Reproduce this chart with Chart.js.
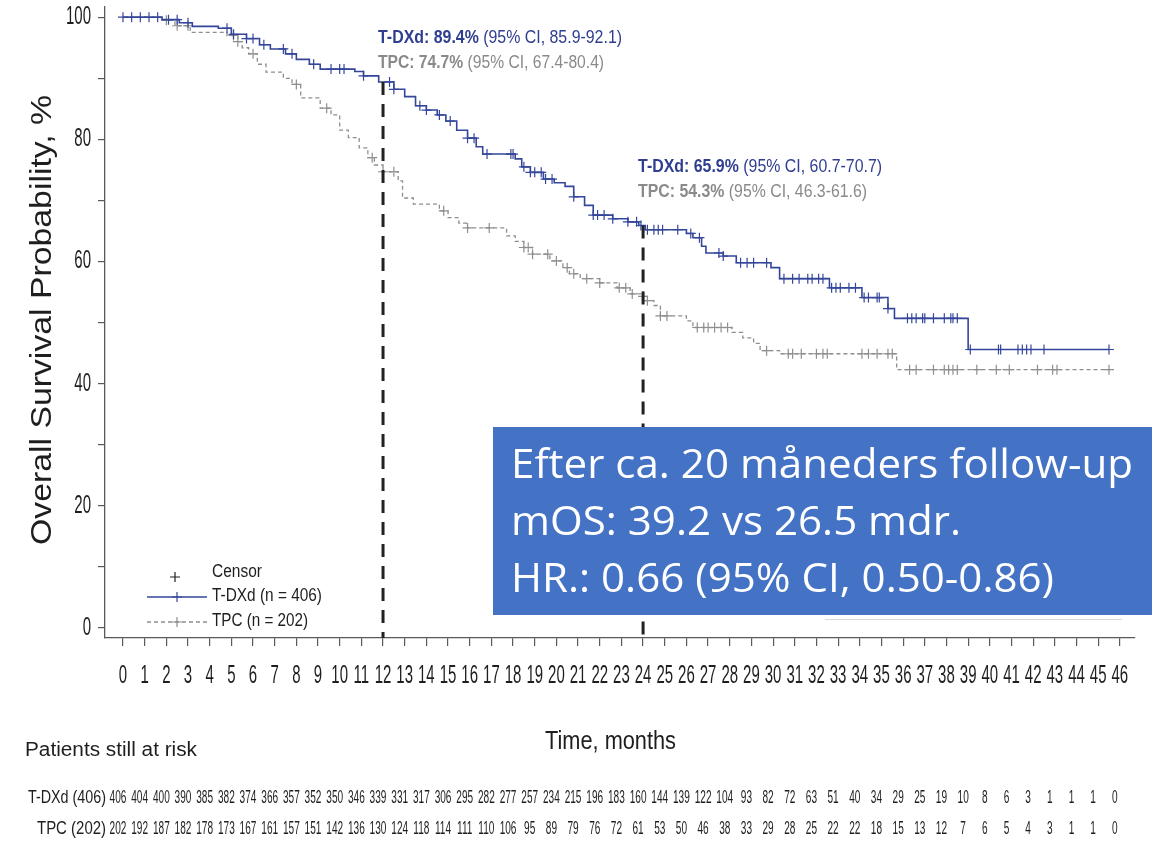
<!DOCTYPE html>
<html lang="en">
<head>
<meta charset="UTF-8" />
<title>Overall survival: T-DXd vs TPC</title>
<script src="https://cdn.jsdelivr.net/npm/chart.js@4.4.1/dist/chart.umd.min.js"></script>
<style>
  html, body { margin: 0; padding: 0; background: #fff; }
  .container { width: 1152px; height: 846px; }
</style>
</head>
<body>
<div class="container">
  <canvas id="kmChart" width="1152" height="846"></canvas>
</div>
<script>
// Kaplan-Meier steps (time in months, survival in %)
const tdxdTime = [0, 1.8, 2.6, 3.2, 4.4, 5.0, 5.7, 6.3, 6.8, 7.5, 8.0, 8.6, 9.1, 10.7, 11.1, 11.8, 12.5, 13.0, 13.5, 14.0,
  14.5, 14.9, 15.4, 15.9, 16.3, 16.6, 18.1, 18.4, 18.8, 19.4, 19.9, 20.4, 20.8, 21.3, 21.7, 22.6, 23.3, 23.8, 24.1, 26.0,
  26.3, 26.7, 26.9, 27.7, 28.3, 29.9, 30.3, 32.6, 34.1, 35.3, 35.6, 39.0, 45.5];
const tdxdSurv = [100, 99.6, 99.1, 98.5, 98.2, 97.2, 96.5, 95.5, 94.8, 94.0, 93.1, 92.3, 91.5, 91.1, 90.4, 89.4, 88.2, 87.0, 85.5, 84.8,
  84.0, 83.0, 81.5, 80.2, 78.8, 77.6, 76.8, 75.5, 74.6, 73.5, 72.9, 72.3, 70.6, 69.2, 67.6, 67.0, 66.5, 65.9, 65.2, 64.6,
  63.9, 62.5, 61.4, 60.9, 59.8, 59.0, 57.2, 55.7, 54.1, 52.3, 50.7, 45.6, 45.6];

const tpcTime = [0, 1.8, 2.4, 3.1, 4.8, 5.3, 5.5, 5.8, 6.2, 6.6, 7.4, 7.8, 8.2, 9.1, 9.6, 10.0, 10.4, 10.9, 11.3, 11.6,
  12.0, 12.7, 12.9, 13.4, 14.6, 15.0, 15.5, 15.9, 17.7, 18.1, 18.5, 18.9, 19.7, 20.3, 20.6, 21.1, 22.0, 22.8, 23.4, 23.9,
  24.1, 24.5, 24.8, 26.0, 26.3, 28.1, 28.6, 29.1, 29.4, 30.3, 35.7, 45.5];
const tpcSurv = [100, 99.5, 98.6, 97.5, 97.0, 96.0, 95.0, 94.0, 92.3, 91.0, 90.0, 89.0, 86.8, 85.1, 84.0, 81.5, 80.3, 78.6, 77.0, 75.8,
  74.7, 73.2, 70.4, 69.4, 68.3, 67.2, 66.3, 65.5, 64.2, 63.3, 62.3, 61.2, 60.1, 59.0, 58.0, 57.2, 56.5, 55.7, 54.7, 54.3,
  53.6, 52.8, 51.1, 50.3, 49.2, 48.4, 47.5, 46.6, 45.4, 44.9, 42.3, 42.3];

// censoring times (months)
const tdxdCensor = [0, 0.4, 0.8, 1.2, 1.6, 2.1, 2.5, 3.0, 4.8, 5.1, 5.7, 6.0, 6.5, 7.4, 7.8, 8.8, 9.6, 10.0, 10.2, 11.1,
  12.3, 12.5, 13.7, 14.0, 14.6, 15.1, 15.9, 16.2, 16.8, 17.9, 18.0, 18.5, 18.8, 19.0, 19.3, 19.5, 19.8, 20.8, 21.7, 21.9,
  22.2, 22.6, 23.3, 23.7, 23.9, 24.2, 24.5, 24.7, 24.9, 25.6, 26.2, 26.6, 27.5, 27.7, 28.5, 28.8, 29.1, 29.7, 30.5, 30.9,
  31.2, 31.6, 31.8, 32.1, 32.3, 32.7, 32.9, 33.1, 33.5, 33.8, 34.2, 34.4, 34.8, 34.9, 35.3, 36.2, 36.4, 36.6, 36.9, 37.0,
  37.4, 37.9, 38.2, 38.3, 38.5, 39.1, 40.4, 40.5, 41.3, 41.5, 41.7, 41.9, 42.5, 45.5];
const tpcCensor = [2.0, 2.5, 3.0, 5.1, 5.3, 6.0, 8.0, 9.4, 11.5, 12.0, 12.5, 14.8, 15.9, 16.9, 18.5, 18.7, 18.9, 19.6, 20.0, 20.5,
  20.8, 21.4, 22.0, 22.9, 23.2, 23.5, 24.0, 24.2, 24.8, 25.1, 26.5, 26.8, 27.0, 27.3, 27.6, 27.9, 29.7, 30.7, 30.9, 31.3,
  32.0, 32.3, 32.5, 34.1, 34.4, 34.8, 35.3, 35.5, 36.3, 36.6, 37.4, 37.9, 38.1, 38.3, 38.5, 39.4, 40.3, 40.9, 42.2, 42.9,
  43.1, 45.5];

const months = [0, 1, 2, 3, 4, 5, 6, 7, 8, 9, 10, 11, 12, 13, 14, 15, 16, 17, 18, 19, 20, 21, 22, 23,
  24, 25, 26, 27, 28, 29, 30, 31, 32, 33, 34, 35, 36, 37, 38, 39, 40, 41, 42, 43, 44, 45, 46];
const yTicks = [0, 10, 20, 30, 40, 50, 60, 70, 80, 90, 100];
const yLabels = [0, 20, 40, 60, 80, 100];

const tdxdAtRisk = [406, 404, 400, 390, 385, 382, 374, 366, 357, 352, 350, 346, 339, 331, 317, 306, 295, 282, 277, 257, 234, 215,
  196, 183, 160, 144, 139, 122, 104, 93, 82, 72, 63, 51, 40, 34, 29, 25, 19, 10, 8, 6, 3, 1, 1, 1, 0];
const tpcAtRisk = [202, 192, 187, 182, 178, 173, 167, 161, 157, 151, 142, 136, 130, 124, 118, 114, 111, 110, 106, 95, 89, 79,
  76, 72, 61, 53, 50, 46, 38, 33, 29, 28, 25, 22, 22, 18, 15, 13, 12, 7, 6, 5, 4, 3, 1, 1, 0];

// landmark estimates
const landmarks = [
  { month: 12, tdxd: 89.4, tpc: 74.7, tdxdCI: '85.9-92.1', tpcCI: '67.4-80.4' },
  { month: 24, tdxd: 65.9, tpc: 54.3, tdxdCI: '60.7-70.7', tpcCI: '46.3-61.6' }
];

const boxLines = ['Efter ca. 20 måneders follow-up', 'mOS: 39.2 vs 26.5 mdr.', 'HR.: 0.66 (95% CI, 0.50-0.86)'];

const BLUE = '#34469a';
const BLUE_TXT = '#2f3e8f';
const GREY = '#8e8e8e';
const GREY_TXT = '#8a8a8a';
const AXIS = '#5a5a5a';
const INK = '#1e1e1e';
const FONT = '"Liberation Sans", Arial, sans-serif';
const BOX_FONT = '40px "Open Sans", Lato, sans-serif';

function toPoints(times, surv) {
  return times.map((t, i) => ({ x: t, y: surv[i] }));
}

function survAt(times, surv, t) {
  let s = surv[0];
  for (let i = 0; i < times.length; i++) {
    if (times[i] <= t) s = surv[i];
  }
  return s;
}

function censorPoints(censor, times, surv) {
  return censor.map(t => ({ x: t, y: survAt(times, surv, t) }));
}

// text squeezed horizontally by factor sx
function squeeze(ctx, text, x, y, sx, font, color, align) {
  ctx.save();
  ctx.font = font;
  ctx.fillStyle = color;
  ctx.textBaseline = 'middle';
  const w = ctx.measureText(text).width * sx;
  let left = x;
  if (align === 'center') left = x - w / 2;
  if (align === 'right') left = x - w;
  ctx.translate(left, y);
  ctx.scale(sx, 1);
  ctx.textAlign = 'left';
  ctx.fillText(text, 0, 0);
  ctx.restore();
}

// text fitted to a given width, starting at x
function fitText(ctx, text, x, y, width, font, color) {
  ctx.save();
  ctx.font = font;
  const w = ctx.measureText(text).width;
  ctx.restore();
  squeeze(ctx, text, x, y, width / w, font, color, 'left');
}

function drawRich(ctx, parts, x, y, width, size, color) {
  ctx.save();
  let total = 0;
  parts.forEach(p => {
    ctx.font = (p.bold ? 'bold ' : '') + size + 'px ' + FONT;
    p.w = ctx.measureText(p.text).width;
    total += p.w;
  });
  const sx = width / total;
  ctx.translate(x, y);
  ctx.scale(sx, 1);
  ctx.fillStyle = color;
  ctx.textBaseline = 'middle';
  let cx = 0;
  parts.forEach(p => {
    ctx.font = (p.bold ? 'bold ' : '') + size + 'px ' + FONT;
    ctx.fillText(p.text, cx, 0);
    cx += p.w;
  });
  ctx.restore();
}

function drawCross(ctx, x, y, r, color) {
  ctx.save();
  ctx.strokeStyle = color;
  ctx.lineWidth = 1.2;
  ctx.beginPath();
  ctx.moveTo(x - r, y); ctx.lineTo(x + r, y);
  ctx.moveTo(x, y - r); ctx.lineTo(x, y + r);
  ctx.stroke();
  ctx.restore();
}

const decorations = {
  id: 'decorations',
  afterDraw(chart) {
    const ctx = chart.ctx;
    const xs = chart.scales.x;
    const ys = chart.scales.y;
    const area = chart.chartArea;

    // tick labels, tall and narrow like the original
    xs.ticks.forEach(t => {
      squeeze(ctx, String(t.value), xs.getPixelForValue(t.value), 676, 0.6, '25px ' + FONT, INK, 'center');
    });
    yLabels.forEach(v => {
      squeeze(ctx, String(v), 91, ys.getPixelForValue(v), 0.6, '25px ' + FONT, INK, 'right');
    });

    // axis titles
    ctx.save();
    ctx.translate(43, 320);
    ctx.rotate(-Math.PI / 2);
    fitText(ctx, 'Overall Survival Probability, %', -225, 0, 450, '30px ' + FONT, INK);
    ctx.restore();
    fitText(ctx, 'Time, months', 545, 742, 131, '26px ' + FONT, INK);

    // landmark lines and estimates
    landmarks.forEach((lm, i) => {
      const x = xs.getPixelForValue(lm.month);
      ctx.save();
      ctx.strokeStyle = '#222';
      ctx.lineWidth = 3;
      ctx.setLineDash([13, 9]);
      ctx.beginPath();
      ctx.moveTo(x, ys.getPixelForValue(lm.tdxd));
      ctx.lineTo(x, area.bottom);
      ctx.stroke();
      ctx.restore();
      const ty = i === 0 ? 38 : 167;
      drawRich(ctx, [{ text: 'T-DXd: ' + lm.tdxd + '%', bold: true }, { text: ' (95% CI, ' + lm.tdxdCI + ')' }],
        x - 5, ty, 244, 18, BLUE_TXT);
      drawRich(ctx, [{ text: 'TPC: ' + lm.tpc + '%', bold: true }, { text: ' (95% CI, ' + lm.tpcCI + ')' }],
        x - 5, ty + 25, i === 0 ? 226 : 229, 18, GREY_TXT);
    });

    // legend
    drawCross(ctx, 175, 577, 5, INK);
    fitText(ctx, 'Censor', 212, 572, 50, '18px ' + FONT, INK);
    ctx.save();
    ctx.strokeStyle = BLUE;
    ctx.lineWidth = 1.5;
    ctx.beginPath(); ctx.moveTo(147, 597); ctx.lineTo(207, 597); ctx.stroke();
    ctx.strokeStyle = GREY;
    ctx.lineWidth = 1.3;
    ctx.setLineDash([4, 3]);
    ctx.beginPath(); ctx.moveTo(147, 622); ctx.lineTo(207, 622); ctx.stroke();
    ctx.restore();
    drawCross(ctx, 177, 597, 5, BLUE);
    drawCross(ctx, 177, 622, 5, GREY);
    fitText(ctx, 'T-DXd (n = 406)', 212, 596, 110, '18px ' + FONT, INK);
    fitText(ctx, 'TPC (n = 202)', 212, 621, 96, '18px ' + FONT, INK);

    // number at risk
    fitText(ctx, 'Patients still at risk', 25, 750, 172, '20px ' + FONT, INK);
    fitText(ctx, 'T-DXd (406)', 28, 798, 78, '18px ' + FONT, INK);
    fitText(ctx, 'TPC (202)', 37, 829, 69, '18px ' + FONT, INK);
    months.forEach((m, i) => {
      const x = xs.getPixelForValue(m) - 5;
      squeeze(ctx, String(tdxdAtRisk[i]), x, 798, 0.56, '18px ' + FONT, INK, 'center');
      squeeze(ctx, String(tpcAtRisk[i]), x, 829, 0.56, '18px ' + FONT, INK, 'center');
    });

    // median table header, mostly hidden behind the summary box
    fitText(ctx, 'Median (95% CI), months', 835, 437, 245, 'bold 17px ' + FONT, INK);
    ctx.save();
    ctx.strokeStyle = '#d8d8d8';
    ctx.lineWidth = 1;
    ctx.beginPath(); ctx.moveTo(825, 619.5); ctx.lineTo(1122, 619.5); ctx.stroke();
    ctx.restore();

    // summary box
    ctx.save();
    ctx.fillStyle = '#4472c4';
    ctx.fillRect(493, 427, 659, 188);
    ctx.font = BOX_FONT;
    const sx = 622 / ctx.measureText(boxLines[0]).width;
    ctx.restore();
    boxLines.forEach((line, i) => {
      squeeze(ctx, line, 511, 467 + i * 57, sx, BOX_FONT, '#ffffff', 'left');
    });
  }
};

const ctx = document.getElementById('kmChart').getContext('2d');
const kmChart = new Chart(ctx, {
  type: 'line',
  data: {
    datasets: [
      {
        label: 'T-DXd (n = 406)',
        data: toPoints(tdxdTime, tdxdSurv),
        stepped: 'before',
        borderColor: BLUE,
        borderWidth: 1.6,
        pointRadius: 0,
        fill: false
      },
      {
        label: 'T-DXd censor',
        type: 'scatter',
        data: censorPoints(tdxdCensor, tdxdTime, tdxdSurv),
        pointStyle: 'cross',
        pointRadius: 5,
        pointBorderColor: BLUE,
        pointBorderWidth: 1.2,
        showLine: false
      },
      {
        label: 'TPC (n = 202)',
        data: toPoints(tpcTime, tpcSurv),
        stepped: 'before',
        borderColor: GREY,
        borderWidth: 1.3,
        borderDash: [4, 3],
        pointRadius: 0,
        fill: false
      },
      {
        label: 'TPC censor',
        type: 'scatter',
        data: censorPoints(tpcCensor, tpcTime, tpcSurv),
        pointStyle: 'cross',
        pointRadius: 5,
        pointBorderColor: GREY,
        pointBorderWidth: 1.2,
        showLine: false
      }
    ]
  },
  options: {
    responsive: false,
    animation: false,
    devicePixelRatio: 1,
    layout: { padding: { top: 5, right: 17, bottom: 0, left: 0 } },
    plugins: {
      legend: { display: false },
      tooltip: { enabled: false }
    },
    scales: {
      x: {
        type: 'linear',
        min: -0.83,
        max: 46.7,
        afterBuildTicks: axis => { axis.ticks = months.map(v => ({ value: v })); },
        afterFit: axis => { axis.height = 208; },
        ticks: { display: false, autoSkip: false },
        grid: { drawOnChartArea: false, drawTicks: true, tickLength: 8, color: AXIS, lineWidth: 1.2 },
        border: { color: AXIS, width: 1.3 }
      },
      y: {
        type: 'linear',
        min: -1.63,
        max: 101.8,
        afterBuildTicks: axis => { axis.ticks = yTicks.map(v => ({ value: v })); },
        afterFit: axis => { axis.width = 105; },
        ticks: { display: false },
        grid: { drawOnChartArea: false, drawTicks: true, tickLength: 7, color: AXIS, lineWidth: 1.2 },
        border: { color: AXIS, width: 1.3 }
      }
    }
  },
  plugins: [decorations]
});
</script>
</body>
</html>
